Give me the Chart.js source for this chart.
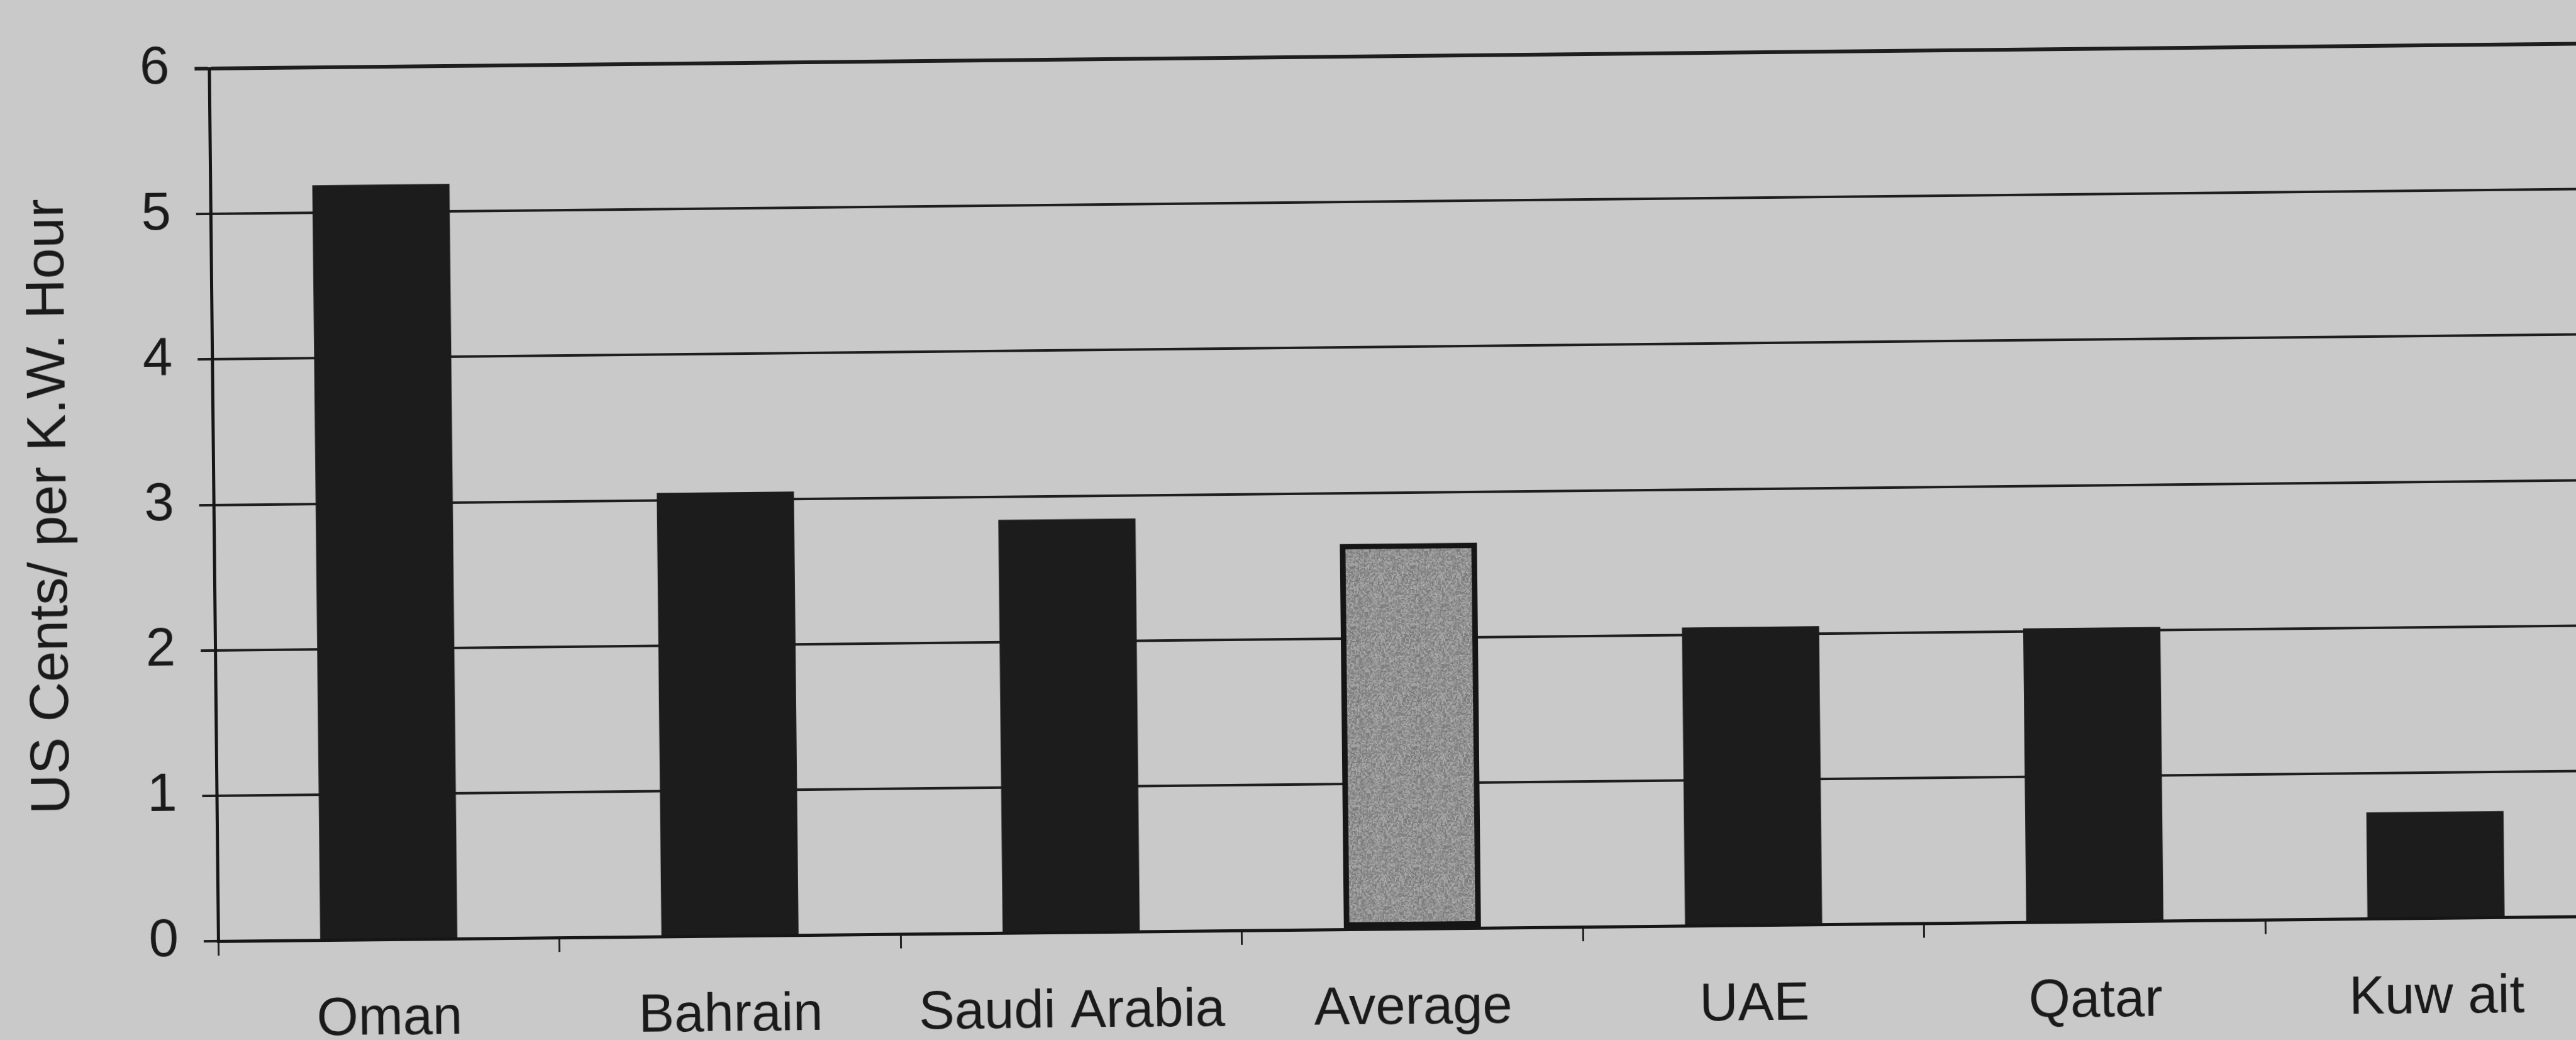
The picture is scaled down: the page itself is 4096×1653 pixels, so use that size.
<!DOCTYPE html>
<html>
<head>
<meta charset="utf-8">
<script src="https://cdn.jsdelivr.net/npm/chart.js@4/dist/chart.umd.min.js"></script>
<style>
  html, body { margin: 0; padding: 0; background: #c9c9c9; overflow: hidden; width: 4096px; height: 1653px; }
  #wrap { position: absolute; left: 0; top: 0; width: 4200px; height: 1653px;
          transform: rotate(-0.6deg); transform-origin: 2048px 826px; }
  canvas { display: block; }
</style>
</head>
<body>
<div id="wrap"><canvas id="chart" width="4200" height="1653"></canvas></div>
<script>
// Electricity tariffs in the GCC states, US cents per kWh
const categories = ['Oman', 'Bahrain', 'Saudi Arabia', 'Average', 'UAE', 'Qatar', 'Kuw ait'];
const centsPerKWh = [5.19, 3.05, 2.84, 2.65, 2.05, 2.02, 0.73];
const yTickValues = [0, 1, 2, 3, 4, 5, 6];
const yAxisTitle = 'US Cents/ per K.W. Hour';

const FONT = '"Liberation Sans", Arial, Helvetica, sans-serif';
const INK = '#1a1a1a';
const BAR = '#1c1c1c';

// Grainy grey fill used for the "Average" bar (halftone look)
function grainPattern() {
  const size = 96, cell = 2;
  const c = document.createElement('canvas');
  c.width = size; c.height = size;
  const g = c.getContext('2d');
  for (let y = 0; y < size; y += cell) {
    for (let x = 0; x < size; x += cell) {
      const h = Math.abs(Math.sin(x * 12.9898 + y * 78.233) * 43758.5453) % 1;
      const v = Math.round(146 + (h - 0.5) * 56);
      g.fillStyle = `rgb(${v},${v},${v})`;
      g.fillRect(x, y, cell, cell);
    }
  }
  return g.createPattern(c, 'repeat');
}
const AVG_FILL = grainPattern();

const isAverage = ctx => categories[ctx.dataIndex] === 'Average';

new Chart(document.getElementById('chart'), {
  type: 'bar',
  data: {
    labels: categories,
    datasets: [{
      data: centsPerKWh,
      backgroundColor: ctx => isAverage(ctx) ? AVG_FILL : BAR,
      borderColor: '#151515',
      borderWidth: ctx => isAverage(ctx) ? 9 : 0,
      borderSkipped: false,
      categoryPercentage: 1.0,
      barPercentage: 0.402
    }]
  },
  options: {
    responsive: false,
    devicePixelRatio: 1,
    animation: false,
    layout: { padding: { left: 0, top: 90, right: 62, bottom: 0 } },
    plugins: { legend: { display: false }, tooltip: { enabled: false } },
    scales: {
      x: {
        offset: true,
        grid: {
          display: true,
          drawOnChartArea: false,
          drawTicks: true,
          tickLength: 23,
          color: '#222',
          lineWidth: 3,
          offset: true
        },
        border: { display: true, color: '#161616', width: 5 },
        ticks: {
          color: INK,
          font: { family: FONT, size: 85 },
          padding: 54,
          maxRotation: 0,
          autoSkip: false
        },
        afterFit: scale => { scale.height = 175; }
      },
      y: {
        min: 0,
        max: 6,
        afterBuildTicks: scale => { scale.ticks = yTickValues.map(v => ({ value: v })); },
        grid: {
          color: '#1e1e1e',
          lineWidth: ctx => (ctx.tick && ctx.tick.value === 6) ? 6 : 4,
          tickLength: 23,
          drawTicks: true
        },
        border: { display: true, color: '#161616', width: 5 },
        ticks: {
          color: INK,
          font: { family: FONT, size: 85 },
          padding: 40
        },
        title: {
          display: true,
          text: yAxisTitle,
          color: INK,
          font: { family: FONT, size: 88 },
          padding: { top: 28, bottom: 0 }
        },
        afterFit: scale => { scale.width = 340; }
      }
    }
  }
});
</script>
</body>
</html>
